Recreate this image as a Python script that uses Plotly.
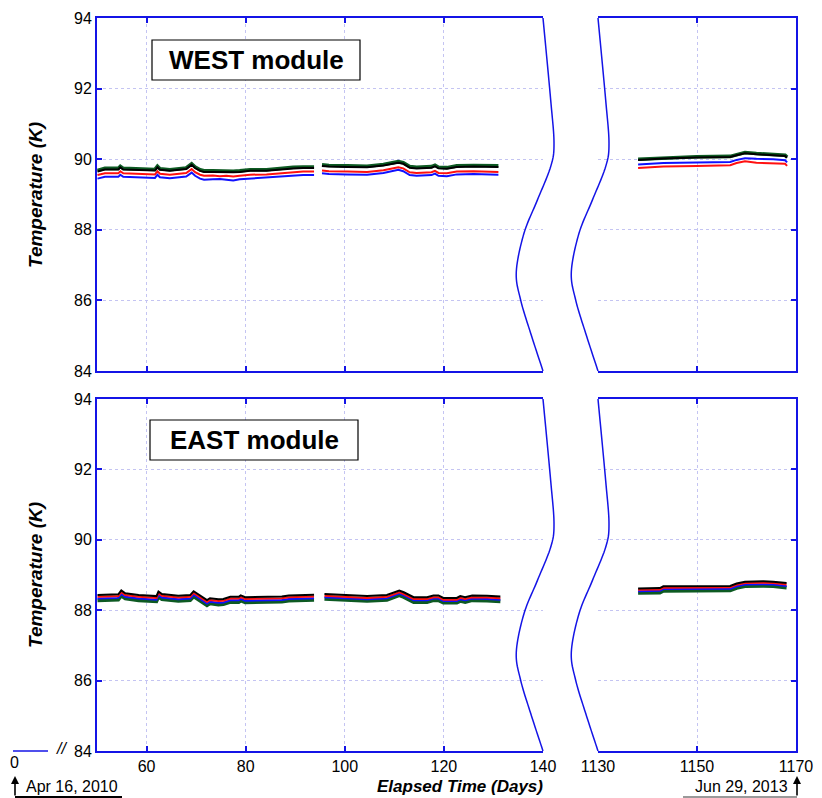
import plotly.graph_objects as go
import numpy as np

W, H = 822, 798
FONT = "Liberation Sans, Arial, Helvetica, sans-serif"
AX_BLUE = "#1414e6"
GRID = "#c4c4f2"

# ---------------- data ----------------
# WEST module, segment 1 (days 50-94)
W1_days  = [50.1, 51.6, 54.3, 54.7, 55.3, 61.7, 62.2, 62.7, 64.7, 68.0, 69.1, 69.8, 70.8, 71.6, 73.4, 74.8, 76.1, 77.5, 78.8, 80.9, 84.2, 87.0, 89.6, 91.6, 93.8]
W1_black = [89.65, 89.71, 89.71, 89.77, 89.71, 89.68, 89.77, 89.70, 89.67, 89.72, 89.84, 89.75, 89.67, 89.64, 89.64, 89.63, 89.63, 89.63, 89.64, 89.67, 89.67, 89.71, 89.74, 89.75, 89.75]
W1_green = [89.68, 89.74, 89.74, 89.80, 89.74, 89.71, 89.80, 89.73, 89.70, 89.75, 89.87, 89.78, 89.70, 89.67, 89.67, 89.66, 89.66, 89.66, 89.67, 89.70, 89.70, 89.74, 89.77, 89.78, 89.78]
W1_red   = [89.55, 89.60, 89.60, 89.66, 89.60, 89.57, 89.66, 89.59, 89.56, 89.61, 89.72, 89.63, 89.56, 89.53, 89.54, 89.52, 89.53, 89.51, 89.53, 89.56, 89.57, 89.60, 89.63, 89.65, 89.65]
W1_blue  = [89.45, 89.50, 89.50, 89.56, 89.50, 89.47, 89.56, 89.49, 89.46, 89.51, 89.62, 89.53, 89.45, 89.42, 89.43, 89.44, 89.42, 89.40, 89.43, 89.45, 89.47, 89.50, 89.53, 89.55, 89.55]

# WEST module, segment 2 (days 95-131)
W2_days  = [95.4, 96.8, 100.5, 104.5, 107.8, 109.8, 110.8, 111.8, 113.1, 114.5, 117.5, 118.2, 118.9, 120.6, 122.6, 126.0, 131.0]
W2_black = [89.81, 89.79, 89.78, 89.77, 89.82, 89.88, 89.90, 89.87, 89.76, 89.74, 89.76, 89.80, 89.74, 89.73, 89.78, 89.79, 89.78]
W2_green = [89.84, 89.82, 89.81, 89.80, 89.85, 89.91, 89.93, 89.90, 89.79, 89.77, 89.79, 89.83, 89.77, 89.76, 89.81, 89.82, 89.81]
W2_red   = [89.68, 89.66, 89.65, 89.64, 89.69, 89.75, 89.77, 89.74, 89.63, 89.61, 89.63, 89.67, 89.61, 89.60, 89.65, 89.66, 89.64]
W2_blue  = [89.60, 89.58, 89.57, 89.56, 89.61, 89.67, 89.70, 89.66, 89.55, 89.53, 89.55, 89.59, 89.53, 89.52, 89.57, 89.58, 89.56]

# WEST module, segment 3 (days 1138-1168)
W3_days  = [1138.1, 1143.2, 1149.9, 1156.7, 1158.0, 1159.7, 1162.0, 1165.4, 1167.8, 1168.2]
W3_black = [89.98, 90.02, 90.05, 90.06, 90.11, 90.17, 90.14, 90.12, 90.09, 90.04]
W3_green = [90.00, 90.04, 90.07, 90.08, 90.13, 90.19, 90.16, 90.14, 90.11, 90.06]
W3_red   = [89.75, 89.79, 89.81, 89.83, 89.89, 89.94, 89.90, 89.89, 89.87, 89.81]
W3_blue  = [89.85, 89.89, 89.91, 89.92, 89.98, 90.03, 90.01, 90.00, 89.97, 89.91]

# EAST module, segment 1
E1_days  = [50.1, 51.5, 54.3, 54.9, 55.7, 58.4, 62.0, 62.4, 63.1, 66.4, 68.8, 69.5, 70.5, 72.2, 72.8, 74.5, 75.5, 76.9, 78.6, 79.0, 79.9, 83.3, 87.3, 88.7, 92.0, 93.8]
E1_black = [88.43, 88.43, 88.45, 88.56, 88.48, 88.43, 88.40, 88.53, 88.46, 88.41, 88.43, 88.54, 88.45, 88.29, 88.34, 88.31, 88.32, 88.38, 88.38, 88.42, 88.37, 88.38, 88.39, 88.42, 88.44, 88.44]
E1_red   = [88.38, 88.38, 88.40, 88.51, 88.43, 88.38, 88.35, 88.48, 88.41, 88.36, 88.38, 88.49, 88.40, 88.24, 88.29, 88.26, 88.27, 88.33, 88.33, 88.37, 88.32, 88.33, 88.34, 88.37, 88.39, 88.39]
E1_blue  = [88.33, 88.33, 88.35, 88.46, 88.38, 88.33, 88.30, 88.43, 88.36, 88.31, 88.33, 88.44, 88.35, 88.19, 88.24, 88.21, 88.22, 88.28, 88.28, 88.32, 88.27, 88.28, 88.29, 88.32, 88.34, 88.34]
E1_green = [88.28, 88.28, 88.30, 88.41, 88.33, 88.28, 88.25, 88.38, 88.31, 88.26, 88.28, 88.39, 88.30, 88.14, 88.19, 88.16, 88.17, 88.23, 88.23, 88.27, 88.22, 88.23, 88.24, 88.27, 88.29, 88.29]

# EAST module, segment 2
E2_days  = [95.9, 99.8, 104.5, 108.5, 110.2, 111.0, 111.9, 113.9, 116.6, 117.9, 118.9, 119.9, 122.6, 123.3, 124.3, 125.7, 128.7, 131.4]
E2_black = [88.46, 88.43, 88.40, 88.43, 88.53, 88.56, 88.51, 88.37, 88.37, 88.42, 88.42, 88.35, 88.35, 88.40, 88.37, 88.42, 88.41, 88.39]
E2_red   = [88.41, 88.38, 88.35, 88.38, 88.48, 88.51, 88.46, 88.32, 88.32, 88.37, 88.37, 88.30, 88.30, 88.35, 88.32, 88.37, 88.36, 88.34]
E2_blue  = [88.37, 88.34, 88.31, 88.34, 88.44, 88.47, 88.42, 88.28, 88.28, 88.33, 88.33, 88.26, 88.26, 88.31, 88.28, 88.33, 88.32, 88.30]
E2_green = [88.32, 88.29, 88.26, 88.29, 88.39, 88.42, 88.37, 88.23, 88.23, 88.28, 88.28, 88.21, 88.21, 88.26, 88.23, 88.28, 88.27, 88.25]

# EAST module, segment 3
E3_days  = [1138.1, 1142.5, 1143.2, 1149.9, 1156.7, 1158.0, 1159.7, 1163.4, 1165.4, 1168.1]
E3_black = [88.62, 88.63, 88.68, 88.68, 88.69, 88.76, 88.81, 88.82, 88.81, 88.77]
E3_red   = [88.58, 88.59, 88.64, 88.64, 88.65, 88.72, 88.77, 88.78, 88.77, 88.73]
E3_blue  = [88.54, 88.55, 88.60, 88.60, 88.61, 88.68, 88.73, 88.74, 88.73, 88.69]
E3_green = [88.49, 88.50, 88.55, 88.55, 88.56, 88.63, 88.68, 88.69, 88.68, 88.64]

LEFT_RANGE = [50, 140]
RIGHT_RANGE = [1130, 1170]
Y_RANGE = [84, 94]
LEFT_TICKS = [60, 80, 100, 120, 140]
RIGHT_TICKS = [1130, 1150, 1170]
Y_TICKS = [84, 86, 88, 90, 92, 94]

# axis-break curve: (fraction down the panel, offset in days from the cut edge)
BREAK_T  = [0.0, 0.232, 0.355, 0.421, 0.516, 0.61, 0.719, 0.799, 0.893, 1.0]
BREAK_DX = [0.0, 1.55, 2.22, 1.55, -1.14, -3.84, -5.39, -4.51, -2.49, 0.0]

# ---------------- layout helpers ----------------
def px(x):
    return x / W

def py(y):
    return 1 - y / H

dL = [px(97), px(543)]
dR = [px(598), px(796)]
dTop = [py(371), py(18)]
dBot = [py(751), py(399)]

fig = go.Figure()

COLORS = {"green": "#0d5a22", "black": "#000000", "red": "#ff1010", "blue": "#1010ff"}
WIDTHS = {"green": 3.6, "black": 2.0, "red": 2.0, "blue": 2.0}

def add_series(xa, ya, days, series):
    for name, vals in series:
        fig.add_trace(go.Scatter(x=days, y=vals, mode="lines", xaxis=xa, yaxis=ya,
                                 line=dict(color=COLORS[name], width=WIDTHS[name]),
                                 showlegend=False, hoverinfo="skip"))

add_series("x", "y", W1_days, [("green", W1_green), ("black", W1_black), ("red", W1_red), ("blue", W1_blue)])
add_series("x", "y", W2_days, [("green", W2_green), ("black", W2_black), ("red", W2_red), ("blue", W2_blue)])
add_series("x2", "y3", W3_days, [("green", W3_green), ("black", W3_black), ("red", W3_red), ("blue", W3_blue)])
add_series("x3", "y2", E1_days, [("green", E1_green), ("blue", E1_blue), ("red", E1_red), ("black", E1_black)])
add_series("x3", "y2", E2_days, [("green", E2_green), ("blue", E2_blue), ("red", E2_red), ("black", E2_black)])
add_series("x4", "y4", E3_days, [("green", E3_green), ("blue", E3_blue), ("red", E3_red), ("black", E3_black)])

tickfont = dict(family=FONT, size=16, color="black")

def xax(domain, rng, tickvals, anchor, labels):
    return dict(domain=domain, range=rng, anchor=anchor, tickmode="array", tickvals=tickvals,
                showticklabels=labels, tickfont=tickfont, ticks="inside", ticklen=5,
                tickcolor=AX_BLUE, tickwidth=1.5, showline=True, linecolor=AX_BLUE, linewidth=2,
                mirror="ticks", showgrid=True, gridcolor=GRID, griddash="3px,3px", gridwidth=1,
                zeroline=False, fixedrange=True, automargin=False)

def yax(domain, anchor, side, labels):
    return dict(domain=domain, range=Y_RANGE, anchor=anchor, side=side, tickmode="array",
                tickvals=Y_TICKS, showticklabels=labels, tickfont=tickfont, ticks="inside",
                ticklen=5, tickcolor=AX_BLUE, tickwidth=1.5, showline=True, linecolor=AX_BLUE,
                linewidth=2, showgrid=True, gridcolor=GRID, griddash="3px,3px", gridwidth=1,
                zeroline=False, fixedrange=True, automargin=False)

fig.update_layout(
    width=W, height=H, margin=dict(l=0, r=0, t=0, b=0),
    paper_bgcolor="white", plot_bgcolor="white",
    xaxis=xax(dL, LEFT_RANGE, LEFT_TICKS, "y", False),
    xaxis2=xax(dR, RIGHT_RANGE, RIGHT_TICKS, "y3", False),
    xaxis3=xax(dL, LEFT_RANGE, LEFT_TICKS, "y2", True),
    xaxis4=xax(dR, RIGHT_RANGE, RIGHT_TICKS, "y4", True),
    yaxis=yax(dTop, "x", "left", True),
    yaxis3=yax(dTop, "x2", "right", False),
    yaxis2=yax(dBot, "x3", "left", True),
    yaxis4=yax(dBot, "x4", "right", False),
    showlegend=False,
)

# ---- axis-break curves (smooth Catmull-Rom through the control points) ----
def catmull(ts, ds, n=12):
    pts = list(zip(ts, ds))
    P = [pts[0]] + pts + [pts[-1]]
    out = []
    for i in range(1, len(P) - 2):
        p0, p1, p2, p3 = [np.array(p) for p in P[i - 1:i + 3]]
        for s in np.linspace(0, 1, n, endpoint=False):
            s2, s3 = s * s, s * s * s
            v = 0.5 * ((2 * p1) + (-p0 + p2) * s + (2 * p0 - 5 * p1 + 4 * p2 - p3) * s2
                       + (-p0 + 3 * p1 - 3 * p2 + p3) * s3)
            out.append(v)
    out.append(np.array(pts[-1]))
    return out

curve = catmull(BREAK_T, BREAK_DX)
span_L = LEFT_RANGE[1] - LEFT_RANGE[0]
span_R = RIGHT_RANGE[1] - RIGHT_RANGE[0]

def path_for(edge_frac, span):
    segs = []
    for k, (t, dx) in enumerate(curve):
        xf = edge_frac + dx / span
        yf = 1 - t
        segs.append(("M" if k == 0 else "L") + f"{xf:.5f},{yf:.5f}")
    return " ".join(segs)

shapes = []
for xl, xr, yd in [("x", "x2", "y"), ("x3", "x4", "y2")]:
    shapes.append(dict(type="path", xref=f"{xl} domain", yref=f"{yd} domain",
                       path=path_for(1.0, span_L), line=dict(color=AX_BLUE, width=1.5)))
    shapes.append(dict(type="path", xref=f"{xr} domain", yref=f"{yd} domain",
                       path=path_for(0.0, span_R), line=dict(color=AX_BLUE, width=1.5)))

# module label boxes
shapes.append(dict(type="rect", xref="paper", yref="paper", x0=px(152), x1=px(360), y0=py(80), y1=py(40),
                   line=dict(color="black", width=1.2), fillcolor="white"))
shapes.append(dict(type="rect", xref="paper", yref="paper", x0=px(150), x1=px(358), y0=py(460), y1=py(420),
                   line=dict(color="black", width=1.2), fillcolor="white"))

# broken-axis stub at the origin and date underlines
shapes.append(dict(type="line", xref="paper", yref="paper", x0=px(13), x1=px(48), y0=py(751), y1=py(751),
                   line=dict(color=AX_BLUE, width=1.5)))
shapes.append(dict(type="line", xref="paper", yref="paper", x0=px(15), x1=px(122), y0=py(797), y1=py(797),
                   line=dict(color="black", width=2)))
shapes.append(dict(type="line", xref="paper", yref="paper", x0=px(683), x1=px(797), y0=py(797), y1=py(797),
                   line=dict(color="#9a9a9a", width=2)))

fig.update_layout(shapes=shapes)

ann = []
ann.append(dict(text="<b>WEST module</b>", x=px(256), y=py(60), xref="paper", yref="paper",
                showarrow=False, font=dict(family=FONT, size=26, color="black"), xanchor="center", yanchor="middle"))
ann.append(dict(text="<b>EAST module</b>", x=px(254), y=py(440), xref="paper", yref="paper",
                showarrow=False, font=dict(family=FONT, size=26, color="black"), xanchor="center", yanchor="middle"))
for yc in [195, 575]:
    ann.append(dict(text="<b><i>Temperature (K)</i></b>", x=px(35), y=py(yc), xref="paper", yref="paper",
                    showarrow=False, textangle=-90, font=dict(family=FONT, size=19, color="black"),
                    xanchor="center", yanchor="middle"))
ann.append(dict(text="<b><i>Elapsed Time (Days)</i></b>", x=px(460), y=py(786), xref="paper", yref="paper",
                showarrow=False, font=dict(family=FONT, size=17, color="black"), xanchor="center", yanchor="middle"))
ann.append(dict(text="0", x=px(15), y=py(762), xref="paper", yref="paper", showarrow=False,
                font=dict(family=FONT, size=16, color="black"), xanchor="center", yanchor="middle"))
ann.append(dict(text="<i>//</i>", x=px(61), y=py(748), xref="paper", yref="paper", showarrow=False,
                font=dict(family=FONT, size=16, color="black"), xanchor="center", yanchor="middle"))
ann.append(dict(text="Apr 16, 2010", x=px(24), y=py(786), xref="paper", yref="paper", showarrow=False,
                font=dict(family=FONT, size=16, color="black"), xanchor="left", yanchor="middle"))
ann.append(dict(text="Jun 29, 2013", x=px(790), y=py(786), xref="paper", yref="paper", showarrow=False,
                font=dict(family=FONT, size=16, color="black"), xanchor="right", yanchor="middle"))
for xa in [15, 797]:
    ann.append(dict(text="", x=px(xa), y=py(776), xref="paper", yref="paper", showarrow=True,
                    ax=0, ay=21, arrowhead=2, arrowsize=1, arrowwidth=1.6, arrowcolor="black"))
fig.update_layout(annotations=ann)

fig.write_html("out.html", config={"displayModeBar": False},
               post_script="document.body.style.margin='0';")
